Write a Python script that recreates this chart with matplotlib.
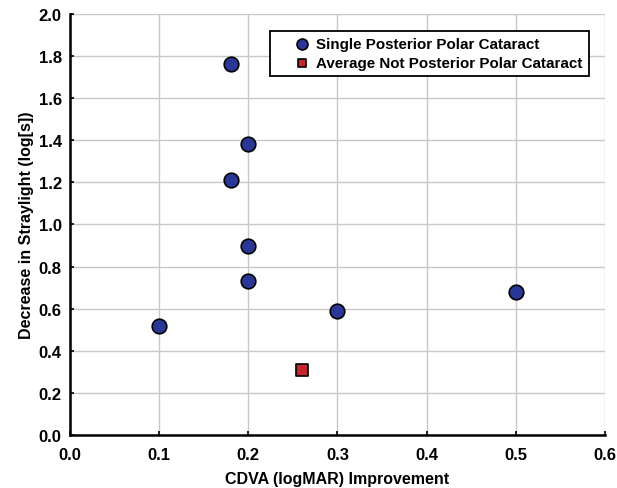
import matplotlib.pyplot as plt

# CDVA improvement vs decrease in straylight
single_x = [0.18, 0.20, 0.18, 0.20, 0.20, 0.30, 0.10, 0.50]
single_y = [1.76, 1.38, 1.21, 0.90, 0.73, 0.59, 0.52, 0.68]
avg_x = [0.26]
avg_y = [0.31]

x_ticks = [0.0, 0.1, 0.2, 0.3, 0.4, 0.5, 0.6]
y_ticks = [0.0, 0.2, 0.4, 0.6, 0.8, 1.0, 1.2, 1.4, 1.6, 1.8, 2.0]

plt.rcParams['font.family'] = ['Liberation Sans', 'DejaVu Sans']
plt.rcParams['font.weight'] = 'bold'

fig = plt.figure(figsize=(6.17, 4.89), dpi=100)
ax = fig.add_axes([0.1135, 0.1084, 0.867, 0.861])

ax.scatter(single_x, single_y, s=110, c='#2B3797', edgecolors='black',
           linewidths=1.2, zorder=3, label='Single Posterior Polar Cataract')
ax.scatter(avg_x, avg_y, s=68, marker='s', c='#C1272D', edgecolors='black',
           linewidths=1.2, zorder=3, label='Average Not Posterior Polar Cataract')

ax.set_xlim(0, 0.6)
ax.set_ylim(0, 2.0)
ax.set_xticks(x_ticks)
ax.set_yticks(y_ticks)
ax.set_xticklabels([f'{v:.1f}' for v in x_ticks], fontsize=12, fontweight='bold')
ax.set_yticklabels([f'{v:.1f}' for v in y_ticks], fontsize=12, fontweight='bold')
ax.tick_params(direction='in', length=3, width=1.2, color='black')
ax.tick_params(axis='x', pad=9)
ax.tick_params(axis='y', pad=6)

ax.grid(True, color='#c8c8c8', linewidth=1)
ax.set_axisbelow(True)
for side in ['top', 'right']:
    ax.spines[side].set_visible(False)
for side in ['left', 'bottom']:
    ax.spines[side].set_linewidth(1.8)

ax.set_xlabel('CDVA (logMAR) Improvement', fontsize=11.5, fontweight='bold', labelpad=6)
ax.set_ylabel('Decrease in Straylight (log[s])', fontsize=11.5, fontweight='bold', labelpad=3)

leg = ax.legend(loc='upper right', bbox_to_anchor=(0.970, 0.9596),
                frameon=True, fancybox=False, edgecolor='black', framealpha=1,
                handlelength=3.3, handletextpad=-0.66, borderpad=0.4,
                labelspacing=0.3, borderaxespad=0,
                prop={'weight': 'bold', 'size': 10.9})
leg.get_frame().set_linewidth(1.3)
leg.legend_handles[0].set_sizes([62])
leg.legend_handles[1].set_sizes([34])

fig.savefig('out.png', dpi=100)
